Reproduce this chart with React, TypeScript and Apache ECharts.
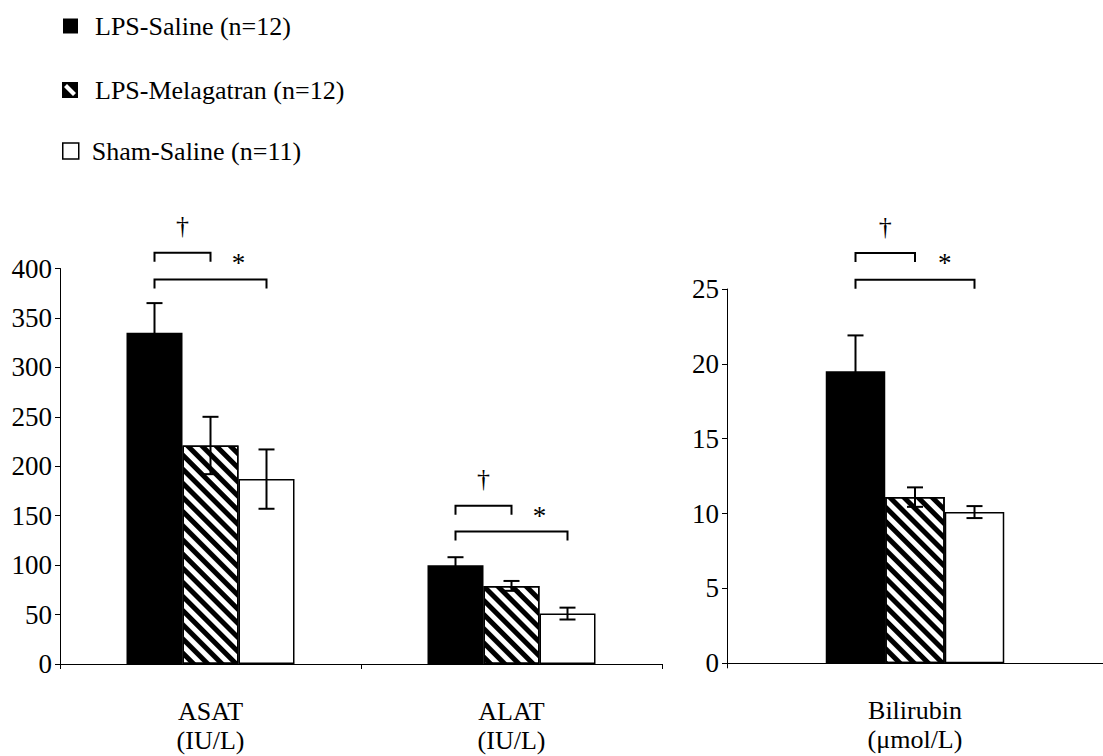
import React, { useEffect, useRef } from "react";
import * as echarts from "echarts";

// Liver enzymes (left panel) and bilirubin (right panel), mean ± SEM
const groupNames = ["LPS-Saline (n=12)", "LPS-Melagatran (n=12)", "Sham-Saline (n=11)"];

const enzymeCategories = ["ASAT", "ALAT"];
const enzymeUnits = ["(IU/L)", "(IU/L)"];
const lpsSalineEnzyme = [335, 100];
const lpsMelagatranEnzyme = [221, 79];
const shamSalineEnzyme = [187, 51];
const lpsSalineEnzymeSem = [30, 8];
const lpsMelagatranEnzymeSem = [29, 5];
const shamSalineEnzymeSem = [30, 6];
const enzymeTicks = { min: 0, max: 400, interval: 50 };

const biliCategories = ["Bilirubin"];
const biliUnits = ["(μmol/L)"];
const lpsSalineBili = [19.5];
const lpsMelagatranBili = [11.1];
const shamSalineBili = [10.1];
const lpsSalineBiliSem = [2.4];
const lpsMelagatranBiliSem = [0.65];
const shamSalineBiliSem = [0.4];
const biliTicks = { min: 0, max: 25, interval: 5 };

// Significance brackets: level of the short (vs LPS-Melagatran) and long (vs Sham) bracket
const enzymeShortBracket = [416, 160];
const enzymeLongBracket = [389, 134];
const biliShortBracket = [27.4];
const biliLongBracket = [25.62];
const shortBracketMark = "†";
const longBracketMark = "*";

const FONT = "Liberation Serif";
const BAR_W_ENZ = 56;
const BAR_W_BILI = 59.5;
const CAP = 8;
const LEG = 9;

const hatchDecal = {
  symbol: "rect",
  symbolSize: 1,
  dashArrayX: [1, 0],
  dashArrayY: [5, 5],
  rotation: Math.PI / 4,
  color: "#000",
};

const barStyles = [
  { color: "#000", borderColor: "#000", borderWidth: 1.5 },
  { color: "#fff", borderColor: "#000", borderWidth: 1.5, decal: hatchDecal },
  { color: "#fff", borderColor: "#000", borderWidth: 1.5 },
];

function barSeries(g: number, barW: number, values: number[][]) {
  return values.map((v, s) => ({
    type: "bar",
    name: groupNames[s],
    xAxisIndex: g,
    yAxisIndex: g,
    data: v,
    barWidth: barW,
    barGap: "0%",
    itemStyle: barStyles[s],
    emphasis: { disabled: true },
  }));
}

function errorSeries(g: number, barW: number, means: number[][], sems: number[][]) {
  const rows: number[][] = [];
  means.forEach((m, s) => m.forEach((v, i) => rows.push([i, v, sems[s][i], s])));
  return {
    type: "custom",
    xAxisIndex: g,
    yAxisIndex: g,
    z: 5,
    clip: false,
    silent: true,
    data: rows,
    encode: { x: 0, y: 1 },
    renderItem: (_p: any, api: any) => {
      const cat = api.value(0);
      const mean = api.value(1);
      const sem = api.value(2);
      const s = api.value(3);
      const x = api.coord([cat, mean])[0] + (s - 1) * barW;
      const yTop = api.coord([cat, mean + sem])[1];
      const yBot = api.coord([cat, mean - sem])[1];
      const style = { stroke: "#000", lineWidth: 2 };
      return {
        type: "group",
        children: [
          { type: "line", shape: { x1: x, y1: yTop, x2: x, y2: yBot }, style },
          { type: "line", shape: { x1: x - CAP, y1: yTop, x2: x + CAP, y2: yTop }, style },
          { type: "line", shape: { x1: x - CAP, y1: yBot, x2: x + CAP, y2: yBot }, style },
        ],
      };
    },
  };
}

function bracketSeries(g: number, barW: number, shortLv: number[], longLv: number[]) {
  const rows = shortLv.map((v, i) => [i, v, longLv[i]]);
  return {
    type: "custom",
    xAxisIndex: g,
    yAxisIndex: g,
    z: 5,
    clip: false,
    silent: true,
    data: rows,
    encode: { x: 0, y: 1 },
    renderItem: (_p: any, api: any) => {
      const cat = api.value(0);
      const cx = api.coord([cat, 0])[0];
      const xB = cx - barW;
      const xH = cx;
      const xW = cx + barW;
      const yS = api.coord([cat, api.value(1)])[1];
      const yL = api.coord([cat, api.value(2)])[1];
      const style = { stroke: "#000", lineWidth: 2, fill: "none" };
      return {
        type: "group",
        children: [
          {
            type: "polyline",
            shape: { points: [[xB, yS + LEG], [xB, yS], [xH, yS], [xH, yS + LEG]] },
            style,
          },
          {
            type: "polyline",
            shape: { points: [[xB, yL + LEG], [xB, yL], [xW, yL], [xW, yL + LEG]] },
            style,
          },
          {
            type: "text",
            x: (xB + xH) / 2,
            y: yS - 27,
            style: {
              text: shortBracketMark,
              fill: "#000",
              fontFamily: FONT,
              fontSize: 26,
              align: "center",
              verticalAlign: "middle",
            },
          },
          {
            type: "text",
            x: (xH + xW) / 2,
            y: yS + 10,
            style: {
              text: longBracketMark,
              fill: "#000",
              fontFamily: FONT,
              fontSize: 27,
              align: "center",
              verticalAlign: "middle",
            },
          },
        ],
      };
    },
  };
}

const axisLineStyle = { color: "#000", width: 1 };

function xAxisFor(g: number, cats: string[], units: string[]) {
  return {
    type: "category",
    gridIndex: g,
    data: cats,
    axisLine: { show: true, lineStyle: axisLineStyle },
    axisTick: { show: true, length: 5, lineStyle: axisLineStyle },
    axisLabel: {
      formatter: (v: string) => `${v}\n${units[cats.indexOf(v)]}`,
      color: "#000",
      fontFamily: FONT,
      fontSize: 26,
      lineHeight: 29,
      margin: 33,
    },
    splitLine: { show: false },
  };
}

function yAxisFor(g: number, t: { min: number; max: number; interval: number }) {
  return {
    type: "value",
    gridIndex: g,
    min: t.min,
    max: t.max,
    interval: t.interval,
    axisLine: { show: true, lineStyle: axisLineStyle },
    axisTick: { show: true, length: 5, lineStyle: axisLineStyle },
    axisLabel: { color: "#000", fontFamily: FONT, fontSize: 27, margin: 8 },
    splitLine: { show: false },
  };
}

const legendText = (pad: number) => ({
  color: "#000",
  fontFamily: FONT,
  fontSize: 26,
  lineHeight: 26,
  padding: [0, 0, 0, pad],
});

const hatchIcon = "path://M0 0H16V16H0Z M5 2L2 5L11 14L14 11Z";

export default function App() {
  const ref = useRef<HTMLDivElement>(null);

  useEffect(() => {
    if (!ref.current) return;
    const chart = echarts.init(ref.current, null, { renderer: "svg" });
    chart.setOption({
      animation: false,
      backgroundColor: "#fff",
      textStyle: { fontFamily: FONT },
      legend: [
        {
          data: [{ name: groupNames[0], icon: "rect", itemStyle: { color: "#000", borderWidth: 0 } }],
          left: 63,
          top: 13,
          itemWidth: 15,
          itemHeight: 15,
          padding: 0,
          selectedMode: false,
          textStyle: legendText(12),
        },
        {
          data: [
            {
              name: groupNames[1],
              icon: hatchIcon,
              itemStyle: { color: "#000", borderWidth: 0, decal: "none" },
            },
          ],
          left: 62,
          top: 77,
          itemWidth: 16,
          itemHeight: 16,
          padding: 0,
          selectedMode: false,
          textStyle: legendText(12),
        },
        {
          data: [
            {
              name: groupNames[2],
              icon: "rect",
              itemStyle: { color: "#fff", borderColor: "#000", borderWidth: 1.5 },
            },
          ],
          left: 62,
          top: 138,
          itemWidth: 16,
          itemHeight: 16,
          padding: 0,
          selectedMode: false,
          textStyle: legendText(8),
        },
      ],
      grid: [
        { left: 60, top: 268.5, width: 602, height: 395.5 },
        { left: 727, top: 289, width: 382, height: 374.3 },
      ],
      xAxis: [xAxisFor(0, enzymeCategories, enzymeUnits), xAxisFor(1, biliCategories, biliUnits)],
      yAxis: [yAxisFor(0, enzymeTicks), yAxisFor(1, biliTicks)],
      series: [
        ...barSeries(0, BAR_W_ENZ, [lpsSalineEnzyme, lpsMelagatranEnzyme, shamSalineEnzyme]),
        ...barSeries(1, BAR_W_BILI, [lpsSalineBili, lpsMelagatranBili, shamSalineBili]),
        errorSeries(
          0,
          BAR_W_ENZ,
          [lpsSalineEnzyme, lpsMelagatranEnzyme, shamSalineEnzyme],
          [lpsSalineEnzymeSem, lpsMelagatranEnzymeSem, shamSalineEnzymeSem]
        ),
        errorSeries(
          1,
          BAR_W_BILI,
          [lpsSalineBili, lpsMelagatranBili, shamSalineBili],
          [lpsSalineBiliSem, lpsMelagatranBiliSem, shamSalineBiliSem]
        ),
        bracketSeries(0, BAR_W_ENZ, enzymeShortBracket, enzymeLongBracket),
        bracketSeries(1, BAR_W_BILI, biliShortBracket, biliLongBracket),
      ],
    });
    return () => chart.dispose();
  }, []);

  return (
    <div
      ref={ref}
      style={{ position: "fixed", left: 0, top: 0, width: 1103, height: 756, background: "#fff" }}
    />
  );
}
